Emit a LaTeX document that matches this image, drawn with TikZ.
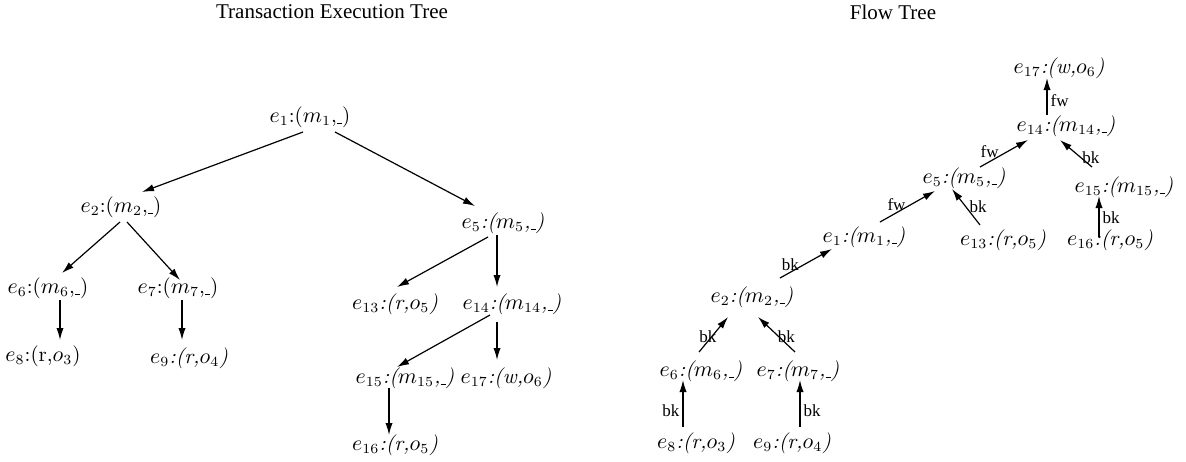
\documentclass[tikz,border=0pt]{standalone}
\usepackage{fontspec}
\newfontfamily\timesf{Liberation Serif}
\usetikzlibrary{arrows.meta, positioning, calc}

\newcommand{\ubar}{\rule[-1pt]{2.6pt}{0.4pt}}

\tikzset{
  lbl/.style={inner sep=1pt, font=\fontsize{10.5}{12.6}\selectfont},
  ilbl/.style={lbl, font=\fontsize{10.5}{12.6}\selectfont\itshape},
  ttl/.style={inner sep=0pt, font=\timesf\fontsize{10.5}{12}\selectfont},
  elab/.style={inner sep=0.5pt, font=\timesf\fontsize{8.5}{10}\selectfont},
  arr/.style={-{Latex[length=6pt,width=3.6pt]}, semithick}
}

\begin{document}
\begin{tikzpicture}[x=0.5pt, y=-0.5pt]
  \useasboundingbox (0,0) rectangle (1186,461);

  % Titles
  \node[ttl] (ttlexec) at (332,12) {Transaction Execution Tree};
  \node[ttl] (ttlflow) at (893,12) {Flow Tree};

  % Execution tree nodes
  \node[lbl]  (x1)  at (310,117) {$e_1$:($m_1$,\ubar)};
  \node[lbl]  (x2)  at (121,207) {$e_2$:($m_2$,\ubar)};
  \node[ilbl] (x5)  at (503,223) {$e_5$:($m_5$,\ubar)};
  \node[lbl]  (x6)  at (48,288)  {$e_6$:($m_6$,\ubar)};
  \node[lbl]  (x7)  at (178,288) {$e_7$:($m_7$,\ubar)};
  \node[lbl]  (x8)  at (43,356)  {$e_8$:(r,$o_3$)};
  \node[ilbl] (x9)  at (189,358) {$e_9$:(r,$o_4$)};
  \node[ilbl] (x13) at (395,304) {$e_{13}$:(r,$o_5$)};
  \node[ilbl] (x14) at (512,304) {$e_{14}$:($m_{14}$,\ubar)};
  \node[ilbl] (x15) at (405,378) {$e_{15}$:($m_{15}$,\ubar)};
  \node[ilbl] (x17) at (506,378) {$e_{17}$:(w,$o_6$)};
  \node[ilbl] (x16) at (395,445) {$e_{16}$:(r,$o_5$)};

  % Execution tree edges
  \draw[arr] ([xshift=-3.5pt,yshift=-7.5pt]x1.center) -- ([xshift=10.5pt,yshift=7.5pt]x2.center);
  \draw[arr] ([xshift=12.5pt,yshift=-7.5pt]x1.center) -- ([xshift=-14pt,yshift=8.5pt]x5.center);
  \draw[arr] ([xshift=-0.5pt,yshift=-7.5pt]x2.center) -- ([xshift=7pt,yshift=7.5pt]x6.center);
  \draw[arr] ([xshift=3pt,yshift=-7.5pt]x2.center) -- ([xshift=1pt,yshift=4pt]x7.center);
  \draw[arr] ([xshift=6pt,yshift=-6pt]x6.center) -- ([xshift=8.5pt,yshift=8pt]x8.center);
  \draw[arr] ([xshift=2pt,yshift=-6pt]x7.center) -- ([xshift=-3.5pt,yshift=9pt]x9.center);
  \draw[arr] ([xshift=-7.5pt,yshift=-7pt]x5.center) -- ([xshift=1pt,yshift=8.5pt]x13.center);
  \draw[arr] ([xshift=-3pt,yshift=-6pt]x5.center) -- ([xshift=-7.5pt,yshift=8.5pt]x14.center);
  \draw[arr] ([xshift=-11pt,yshift=-5.5pt]x14.center) -- ([xshift=-4pt,yshift=5.5pt]x15.center);
  \draw[arr] ([xshift=-7.5pt,yshift=-9pt]x14.center) -- ([xshift=-4.5pt,yshift=9pt]x17.center);
  \draw[arr] ([xshift=-8pt,yshift=-5pt]x15.center) -- ([xshift=-3pt,yshift=5pt]x16.center);

  % Flow tree nodes
  \node[ilbl] (f17) at (1059,68)  {$e_{17}$:(w,$o_6$)};
  \node[ilbl] (f14) at (1066,126) {$e_{14}$:($m_{14}$,\ubar)};
  \node[ilbl] (f5)  at (964,178)  {$e_5$:($m_5$,\ubar)};
  \node[ilbl] (f15) at (1124,187) {$e_{15}$:($m_{15}$,\ubar)};
  \node[ilbl] (f1)  at (864,237)  {$e_1$:($m_1$,\ubar)};
  \node[ilbl] (f13) at (1003,240) {$e_{13}$:(r,$o_5$)};
  \node[ilbl] (f16) at (1110,240) {$e_{16}$:(r,$o_5$)};
  \node[ilbl] (f2)  at (752,297)  {$e_2$:($m_2$,\ubar)};
  \node[ilbl] (f6)  at (701,371)  {$e_6$:($m_6$,\ubar)};
  \node[ilbl] (f7)  at (798,371)  {$e_7$:($m_7$,\ubar)};
  \node[ilbl] (f8)  at (696,443)  {$e_8$:(r,$o_3$)};
  \node[ilbl] (f9)  at (792,443)  {$e_9$:(r,$o_4$)};

  % Flow tree edges
  \draw[arr] ([xshift=-6.5pt,yshift=8pt]f8.center) -- ([xshift=-9pt,yshift=-4.5pt]f6.center)
    node[elab, pos=0.35, left=1pt] {bk};
  \draw[arr] ([xshift=4pt,yshift=8pt]f9.center) -- ([xshift=1pt,yshift=-4.5pt]f7.center)
    node[elab, pos=0.35, right=1pt] {bk};
  \draw[arr] ([xshift=-1pt,yshift=9.5pt]f6.center) -- ([xshift=-12pt,yshift=-10pt]f2.center)
    node[elab, pos=0.45, left=-3pt] {bk};
  \draw[arr] ([xshift=-1.5pt,yshift=9.5pt]f7.center) -- ([xshift=3pt,yshift=-10pt]f2.center)
    node[elab, pos=0.45, right=-1pt] {bk};
  \draw[arr] ([xshift=14pt,yshift=9.5pt]f2.center) -- ([xshift=-16pt,yshift=-6pt]f1.center)
    node[elab, pos=0.2, above=0pt] {bk};
  \draw[arr] ([xshift=8pt,yshift=7.5pt]f1.center) -- ([xshift=-14.5pt,yshift=-6.5pt]f5.center)
    node[elab, pos=0.3, above=0pt] {fw};
  \draw[arr] ([xshift=-11.5pt,yshift=7.5pt]f13.center) -- ([xshift=-6pt,yshift=-5.5pt]f5.center)
    node[elab, pos=0.5, right=1pt] {bk};
  \draw[arr] ([xshift=8pt,yshift=5.5pt]f5.center) -- ([xshift=-19pt,yshift=-7pt]f14.center)
    node[elab, pos=0.2, above=1pt] {fw};
  \draw[arr] ([xshift=-16pt,yshift=10pt]f15.center) -- ([xshift=-3pt,yshift=-7pt]f14.center)
    node[elab, pos=0.35, right=0pt] {bk};
  \draw[arr] ([xshift=-5.5pt,yshift=1.5pt]f16.center) -- ([xshift=-12.5pt,yshift=-4.5pt]f15.center)
    node[elab, pos=0.48, right=1pt] {bk};
  \draw[arr] ([xshift=-9.5pt,yshift=5.5pt]f14.center) -- ([xshift=-6pt,yshift=-5pt]f17.center)
    node[elab, pos=0.4, right=1pt] {fw};
\end{tikzpicture}
\end{document}
